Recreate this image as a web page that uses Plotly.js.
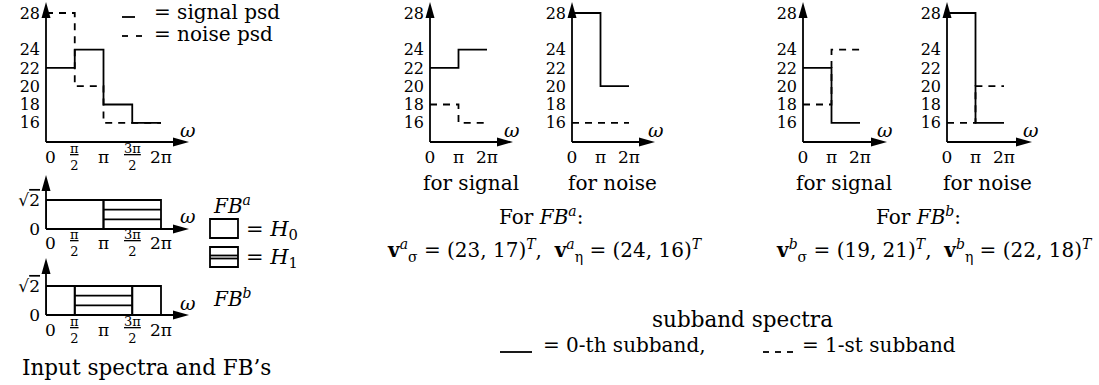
<!DOCTYPE html>
<html>
<head>
<meta charset="utf-8">
<script src="https://cdn.plot.ly/plotly-3.0.1.min.js"></script>
<style>
  html, body { margin: 0; padding: 0; background: #fff; }
  #fig { width: 1099px; height: 385px; }
</style>
</head>
<body>
<div id="fig"></div>
<script>
// Frequency band edges, in units of π
const omegaEdges = [0, 0.5, 1, 1.5, 2];
// Input power spectral densities per band
const signalPsd = [22, 24, 18, 16];
const noisePsd = [28, 20, 16, 16];
const psdTicks = [16, 18, 20, 22, 24, 28];
const omegaTickVals = [0, 0.5, 1, 1.5, 2];
const omegaTickText = ['0', '<u>π</u><br>2', 'π', '<u>3π</u><br>2', '2π'];
// Filter passing each band (0 = H0, 1 = H1) for the two filter banks
const bandFilterA = [0, 0, 1, 1];
const bandFilterB = [0, 1, 1, 0];
const filterGain = Math.SQRT2;
const gainTickVals = [0, Math.SQRT2];
const gainTickText = ['0', '√<span style="text-decoration:overline">2</span>'];
// Subband spectra after decimation by 2
const subEdges = [0, 1, 2];
const subTickText = ['0', 'π', '2π'];
const sigA0 = [22, 24], sigA1 = [18, 16];
const noiseA0 = [28, 20], noiseA1 = [16, 16];
const sigB0 = [22, 16], sigB1 = [18, 24];
const noiseB0 = [28, 16], noiseB1 = [16, 20];
// Subband variance vectors
const vSigmaA = [23, 17], vEtaA = [24, 16];
const vSigmaB = [19, 21], vEtaB = [22, 18];

const W = 1099, H = 385;
const px = x => x / W;
const py = y => 1 - y / H;
const FONT = 'DejaVu Serif';
const LW = 1.8;
const BLACK = '#000';

function stepTrace(edges, vals, xa, ya, dashed) {
  return {
    type: 'scatter', mode: 'lines', xaxis: xa, yaxis: ya,
    x: edges, y: vals.concat([vals[vals.length - 1]]),
    line: { shape: 'hv', color: BLACK, width: LW, dash: dashed ? '7px,6px' : 'solid' },
    hoverinfo: 'skip'
  };
}

// merge neighbouring bands handled by the same filter
function bandGroups(filt) {
  const g = [];
  filt.forEach((f, i) => {
    const last = g[g.length - 1];
    if (last && last.f === f) last.b = omegaEdges[i + 1];
    else g.push({ f: f, a: omegaEdges[i], b: omegaEdges[i + 1] });
  });
  return g;
}

function filterBankTraces(filt, xa, ya) {
  const g = bandGroups(filt);
  const out = [{
    type: 'bar', xaxis: xa, yaxis: ya,
    x: g.map(s => (s.a + s.b) / 2),
    y: g.map(() => filterGain),
    width: g.map(s => s.b - s.a),
    base: 0,
    marker: { color: 'rgba(0,0,0,0)', line: { color: BLACK, width: LW } },
    hoverinfo: 'skip'
  }];
  // H1 passbands are drawn with horizontal hatching
  g.filter(s => s.f === 1).forEach(s => {
    [1 / 3, 2 / 3].forEach(k => {
      out.push({
        type: 'scatter', mode: 'lines', xaxis: xa, yaxis: ya,
        x: [s.a, s.b], y: [filterGain * k, filterGain * k],
        line: { color: BLACK, width: LW }, hoverinfo: 'skip'
      });
    });
  });
  return out;
}

const traces = [
  stepTrace(omegaEdges, signalPsd, 'x', 'y', false),
  stepTrace(omegaEdges, noisePsd, 'x', 'y', true),
  ...filterBankTraces(bandFilterA, 'x2', 'y2'),
  ...filterBankTraces(bandFilterB, 'x3', 'y3'),
  stepTrace(subEdges, sigA0, 'x4', 'y4', false),
  stepTrace(subEdges, sigA1, 'x4', 'y4', true),
  stepTrace(subEdges, noiseA0, 'x5', 'y5', false),
  stepTrace(subEdges, noiseA1, 'x5', 'y5', true),
  stepTrace(subEdges, sigB0, 'x6', 'y6', false),
  stepTrace(subEdges, sigB1, 'x6', 'y6', true),
  stepTrace(subEdges, noiseB0, 'x7', 'y7', false),
  stepTrace(subEdges, noiseB1, 'x7', 'y7', true)
];

// axis helpers (pixel geometry)
const baseAxis = { showgrid: false, zeroline: false, showline: false, ticks: '', fixedrange: true };
function xAxis(left, right, unitPx, anchor, labels) {
  const ax = Object.assign({}, baseAxis, {
    domain: [px(left), px(right)], range: [0, (right - left) / unitPx], anchor: anchor,
    showticklabels: !!labels
  });
  if (labels) Object.assign(ax, {
    tickmode: 'array', tickvals: subEdges, ticktext: labels,
    tickfont: { family: FONT, size: 17, color: BLACK }, ticklabelstandoff: 3
  });
  return ax;
}
function yAxis(top, bottom, r0, r1, anchor, vals, text, size) {
  return Object.assign({}, baseAxis, {
    domain: [py(bottom), py(top)], range: [r0, r1], anchor: anchor,
    tickmode: 'array', tickvals: vals, ticktext: text,
    tickfont: { family: FONT, size: size, color: BLACK }, ticklabelstandoff: 5
  });
}

// psd axis: 9.15 px per unit, 16 at y = 122.8
const PSD_UNIT = 9.15;
const psdR0 = 16 - (142 - 122.8) / PSD_UNIT;
const psdR1 = 16 + (122.8 - 2) / PSD_UNIT;
const psdText = psdTicks.map(String);
const GAIN_UNIT = 29 / Math.SQRT2;

const layout = {
  width: W, height: H,
  margin: { l: 0, r: 0, t: 0, b: 0 },
  paper_bgcolor: '#fff', plot_bgcolor: 'rgba(0,0,0,0)',
  showlegend: false,
  font: { family: FONT, color: BLACK, size: 16 },
  xaxis: xAxis(46, 176, 57.5, 'y', null),
  yaxis: yAxis(2, 142, psdR0, psdR1, 'x', psdTicks, psdText, 16),
  xaxis2: xAxis(46, 176, 57.5, 'y2', null),
  yaxis2: yAxis(175, 229, 0, 54 / GAIN_UNIT, 'x2', gainTickVals, gainTickText, 17),
  xaxis3: xAxis(46, 176, 57.5, 'y3', null),
  yaxis3: yAxis(258, 315, 0, 57 / GAIN_UNIT, 'x3', gainTickVals, gainTickText, 17),
  xaxis4: xAxis(430, 500, 28.5, 'y4', subTickText),
  yaxis4: yAxis(2, 142, psdR0, psdR1, 'x4', psdTicks, psdText, 16),
  xaxis5: xAxis(572, 642, 28.5, 'y5', subTickText),
  yaxis5: yAxis(2, 142, psdR0, psdR1, 'x5', psdTicks, psdText, 16),
  xaxis6: xAxis(803, 873, 28.5, 'y6', subTickText),
  yaxis6: yAxis(2, 142, psdR0, psdR1, 'x6', psdTicks, psdText, 16),
  xaxis7: xAxis(947, 1017, 28.5, 'y7', subTickText),
  yaxis7: yAxis(2, 142, psdR0, psdR1, 'x7', psdTicks, psdText, 16),
  shapes: [],
  annotations: []
};

const shapes = layout.shapes;
const notes = layout.annotations;

function seg(x0, y0, x1, y1, w) {
  shapes.push({ type: 'line', xref: 'paper', yref: 'paper', x0: px(x0), y0: py(y0), x1: px(x1), y1: py(y1),
    line: { color: BLACK, width: w || LW } });
}
function poly(pts) {
  const d = pts.map((p, i) => (i ? 'L' : 'M') + px(p[0]) + ',' + py(p[1])).join(' ') + ' Z';
  shapes.push({ type: 'path', xref: 'paper', yref: 'paper', path: d, fillcolor: BLACK, line: { width: 0 } });
}
function box(x0, y0, x1, y1) {
  shapes.push({ type: 'rect', xref: 'paper', yref: 'paper', x0: px(x0), y0: py(y0), x1: px(x1), y1: py(y1),
    line: { color: BLACK, width: LW }, fillcolor: 'rgba(0,0,0,0)' });
}
// coordinate axes with arrow heads
function axes(ox, oy, xTip, yTip) {
  const L = 16, hw = 4.5;
  seg(ox, oy, xTip - L + 2, oy);
  seg(ox, oy, ox, yTip + L - 2);
  poly([[xTip, oy], [xTip - L, oy - hw], [xTip - L, oy + hw]]);
  poly([[ox, yTip], [ox - hw, yTip + L], [ox + hw, yTip + L]]);
}
function text(t, x, y, size, anchor, extra) {
  notes.push(Object.assign({
    xref: 'paper', yref: 'paper', x: px(x), y: py(y), text: t, showarrow: false,
    xanchor: anchor || 'center', yanchor: 'middle',
    font: { family: FONT, size: size, color: BLACK }
  }, extra || {}));
}

axes(46, 142, 189, 2);
axes(46, 229, 189, 175);
axes(46, 315, 189, 258);
axes(430, 142, 513, 2);
axes(572, 142, 655, 2);
axes(803, 142, 887, 2);
axes(947, 142, 1032, 2);

// ω tick labels of the input-spectrum and filter-bank panels
[['x', 157], ['x2', 243], ['x3', 330]].forEach(([xa, yPix]) => {
  omegaTickVals.forEach((v, i) => {
    const frac = omegaTickText[i].indexOf('<br>') >= 0;
    notes.push({
      xref: xa, yref: 'paper', x: v, y: py(yPix), text: omegaTickText[i], showarrow: false,
      xanchor: 'center', yanchor: 'middle', xshift: i === 0 ? 4 : 0,
      font: { family: FONT, size: frac ? 13 : 17, color: BLACK }
    });
  });
});

// ω axis names
const omega = '<i>ω</i>';
text(omega, 188, 130, 19);
text(omega, 188, 216, 19);
text(omega, 188, 303, 19);
text(omega, 512, 130, 19);
text(omega, 656, 130, 19);
text(omega, 885, 130, 19);
text(omega, 1031, 130, 19);

// psd legend
seg(122, 17, 135, 17);
seg(122, 36, 128, 36);
seg(136, 36, 142, 36);
text('= signal psd', 152, 12, 20, 'left');
text('= noise psd', 152, 34, 20, 'left');

// filter bank labels and legend
const fb = s => '<i>FB</i><sup><i>' + s + '</i></sup>';
text(fb('a'), 211, 205, 20, 'left');
text(fb('b'), 211, 298, 20, 'left');
box(210, 219, 238, 238);
text('= <i>H</i><sub>0</sub>', 244, 230, 21, 'left');
box(210, 247, 238, 267);
seg(210, 255.5, 238, 255.5);
seg(210, 258.5, 238, 258.5);
text('= <i>H</i><sub>1</sub>', 244, 258, 21, 'left');
text('Input spectra and FB’s', 146, 367, 21.5);

// subband panel captions
text('for signal', 471, 183, 20);
text('for noise', 612, 183, 20);
text('for signal', 844, 183, 20);
text('for noise', 987, 183, 20);
text('For ' + fb('a') + ':', 541, 216, 20);
text('For ' + fb('b') + ':', 918, 216, 20);

const vec = (sub, sup, v) => '<b>v</b><sup><i>' + sup + '</i></sup><sub>' + sub + '</sub> = (' +
  v[0] + ', ' + v[1] + ')<sup><i>T</i></sup>';
text(vec('σ', 'a', vSigmaA) + ',  ' + vec('η', 'a', vEtaA), 545, 250, 20);
text(vec('σ', 'b', vSigmaB) + ',  ' + vec('η', 'b', vEtaB), 934, 250, 20);

// subband legend
text('subband spectra', 742, 319, 21.5);
seg(500, 352, 532, 352);
text('= 0-th subband,', 541, 345, 20, 'left');
seg(763, 352, 769, 352);
seg(775, 352, 781, 352);
seg(787, 352, 793, 352);
text('= 1-st subband', 800, 345, 20, 'left');

Plotly.newPlot('fig', traces, layout, { staticPlot: true, displayModeBar: false });
</script>
</body>
</html>
